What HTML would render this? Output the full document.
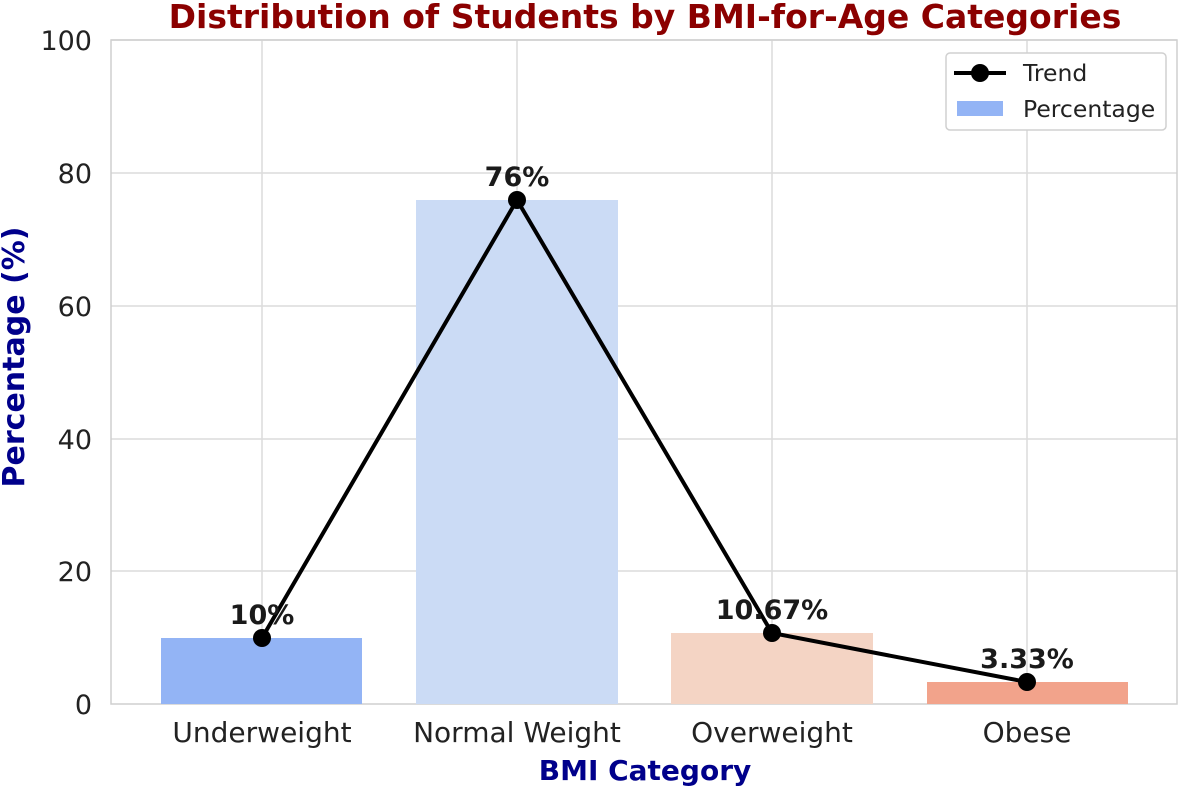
<!DOCTYPE html>
<html><head><meta charset="utf-8"><style>
body{margin:0;background:#fff;}
svg{display:block;font-family:"DejaVu Sans","Liberation Sans",sans-serif;}
</style></head><body>
<svg width="1181" height="786" viewBox="0 0 1181 786">
<rect width="1181" height="786" fill="#fff"/>
<g stroke="#dcdcdc" stroke-width="1.5">
<line x1="111" y1="40" x2="1177" y2="40"/>
<line x1="111" y1="173" x2="1177" y2="173"/>
<line x1="111" y1="306" x2="1177" y2="306"/>
<line x1="111" y1="439" x2="1177" y2="439"/>
<line x1="111" y1="571" x2="1177" y2="571"/>
<line x1="262" y1="40" x2="262" y2="704"/>
<line x1="517" y1="40" x2="517" y2="704"/>
<line x1="772" y1="40" x2="772" y2="704"/>
<line x1="1027" y1="40" x2="1027" y2="704"/>
</g>
<rect x="111" y="40" width="1066" height="664" fill="none" stroke="#cfcfcf" stroke-width="1.5"/>
<rect x="161" y="638" width="201" height="66" fill="#93b4f5"/>
<rect x="416" y="200" width="202" height="504" fill="#cbdbf5"/>
<rect x="671" y="633" width="202" height="71" fill="#f4d4c4"/>
<rect x="927" y="682" width="201" height="22" fill="#f2a38b"/>
<polyline points="262,638 517,200 772,633 1027,682" fill="none" stroke="#000" stroke-width="4"/>
<g fill="#000"><circle cx="262" cy="638" r="9"/><circle cx="517" cy="200" r="9"/><circle cx="772" cy="633" r="9"/><circle cx="1027" cy="682" r="9"/></g>
<g font-size="27" font-weight="bold" fill="#1a1a1a" text-anchor="middle">
<text x="262" y="624">10%</text><text x="517" y="186">76%</text><text x="772" y="619">10.67%</text><text x="1027" y="668">3.33%</text>
</g>
<g font-size="27" fill="#222" text-anchor="end">
<text x="92" y="50">100</text><text x="92" y="183">80</text><text x="92" y="316">60</text><text x="92" y="449">40</text><text x="92" y="581">20</text><text x="92" y="714">0</text>
</g>
<g font-size="28" fill="#222" text-anchor="middle">
<text x="262" y="742">Underweight</text><text x="517" y="742">Normal Weight</text><text x="772" y="742">Overweight</text><text x="1027" y="742">Obese</text>
</g>
<text x="645" y="780" font-size="28" font-weight="bold" fill="#00008b" text-anchor="middle">BMI Category</text>
<text transform="translate(24,357) rotate(-90)" font-size="30" font-weight="bold" fill="#00008b" text-anchor="middle">Percentage (%)</text>
<text x="645" y="28" font-size="33" font-weight="bold" fill="#8b0000" text-anchor="middle">Distribution of Students by BMI-for-Age Categories</text>
<rect x="946" y="53" width="220" height="77" rx="4" fill="#fff" stroke="#d0d0d0" stroke-width="1.5"/>
<line x1="954" y1="73" x2="1006" y2="73" stroke="#000" stroke-width="4"/>
<circle cx="980" cy="73" r="9" fill="#000"/>
<text x="1023" y="81" font-size="23.5" fill="#222">Trend</text>
<rect x="957" y="101" width="46" height="15" fill="#93b4f5"/>
<text x="1023" y="117" font-size="23.5" fill="#222">Percentage</text>
</svg>
</body></html>
